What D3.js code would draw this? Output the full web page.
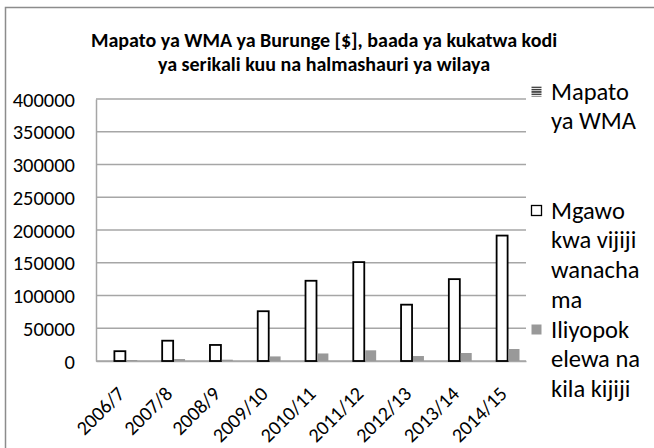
<!DOCTYPE html>
<html>
<head>
<meta charset="utf-8">
<script src="https://cdn.jsdelivr.net/npm/d3@7"></script>
<style>
  body { margin: 0; background: #fff; }
  svg text { font-family: Carlito, Lato, "Liberation Sans", sans-serif; fill: #000; }
</style>
</head>
<body>
<svg id="chart" width="654" height="448"></svg>
<script>
// chart data
var categories = ["2006/7", "2007/8", "2008/9", "2009/10", "2010/11", "2011/12", "2012/13", "2013/14", "2014/15"];
var seriesNames = ["Mapato ya WMA", "Mgawo kwa vijiji wanachama", "Iliyopokelewa na kila kijiji"];
// Mapato ya WMA has no visible bars in the picture
var mgawo = [15000, 31000, 24500, 76000, 122500, 151000, 86000, 125000, 191500];
var iliyopokelewa = [1500, 3000, 2000, 7000, 11500, 16300, 7600, 12200, 18300];
var yTicks = [0, 50000, 100000, 150000, 200000, 250000, 300000, 350000, 400000];
var titleLines = ["Mapato ya WMA ya Burunge [$], baada ya kukatwa kodi", "ya serikali kuu na halmashauri ya wilaya"];
var legendLines = [["Mapato", "ya WMA"], ["Mgawo", "kwa vijiji", "wanacha", "ma"], ["Iliyopok", "elewa na", "kila kijiji"]];

var svg = d3.select("#chart"),
   margin = {top: 99, right: 128, bottom: 87, left: 96},
   width = +svg.attr("width") - margin.left - margin.right,
   height = +svg.attr("height") - margin.top - margin.bottom;

// outer frame
svg.append("rect")
   .attr("x", 5.5).attr("y", 7.5)
   .attr("width", 660).attr("height", 460)
   .attr("fill", "none")
   .attr("stroke", "#8c8c8c")
   .attr("stroke-width", 1.5);

// stripes for the first legend key
var pat = svg.append("defs").append("pattern")
   .attr("id", "stripes")
   .attr("patternUnits", "userSpaceOnUse")
   .attr("width", 4).attr("height", 2.4);
pat.append("rect").attr("width", 4).attr("height", 2.4).attr("fill", "#fff");
pat.append("rect").attr("width", 4).attr("height", 1.5).attr("fill", "#333");

var g = svg.append("g").attr("transform", "translate(" + margin.left + "," + margin.top + ")");

var x0 = d3.scaleBand()
   .domain(categories)
   .range([0, width])
   .paddingInner(0.31)
   .paddingOuter(0.155);

var x1 = d3.scaleBand()
   .domain(seriesNames)
   .range([0, x0.bandwidth()]);

var y = d3.scaleLinear()
   .domain([0, 400000])
   .range([height, 0]);

// gridlines
g.append("g")
   .selectAll("line")
   .data(yTicks)
   .enter().append("line")
   .attr("x1", 0).attr("x2", width)
   .attr("y1", function (d) { return y(d); })
   .attr("y2", function (d) { return y(d); })
   .attr("stroke", "#a6a6a6")
   .attr("stroke-width", 1.5);

// y axis
var yAxis = g.append("g")
   .call(d3.axisLeft(y).tickValues(yTicks).tickSize(0).tickPadding(21).tickFormat(d3.format("d")));
yAxis.select(".domain").attr("stroke", "#a6a6a6").attr("stroke-width", 1.5);
yAxis.selectAll("text").style("font-size", "20.5px").attr("dy", "0.35em");

// x axis
var xAxis = g.append("g")
   .attr("transform", "translate(0," + height + ")")
   .call(d3.axisBottom(x0).tickSize(0).tickPadding(0));
xAxis.select(".domain").attr("stroke", "#a6a6a6").attr("stroke-width", 1.5);
xAxis.selectAll("text")
   .style("font-size", "20px")
   .attr("text-anchor", "end")
   .attr("dy", null)
   .attr("y", 0)
   .attr("transform", "translate(6,34) rotate(-45)");

// bars: outlined
g.append("g")
   .selectAll("rect")
   .data(mgawo)
   .enter().append("rect")
   .attr("x", function (d, i) { return x0(categories[i]) + x1(seriesNames[1]); })
   .attr("y", function (d) { return y(d); })
   .attr("width", x1.bandwidth())
   .attr("height", function (d) { return height - y(d); })
   .attr("fill", "#fff")
   .attr("stroke", "#000")
   .attr("stroke-width", 1.8);

// bars: grey
g.append("g")
   .selectAll("rect")
   .data(iliyopokelewa)
   .enter().append("rect")
   .attr("x", function (d, i) { return x0(categories[i]) + x1(seriesNames[2]) + 0.9; })
   .attr("y", function (d) { return y(d); })
   .attr("width", x1.bandwidth())
   .attr("height", function (d) { return height - y(d); })
   .attr("fill", "#999999");

// title
svg.append("g")
   .selectAll("text")
   .data(titleLines)
   .enter().append("text")
   .attr("x", 324)
   .attr("y", function (d, i) { return 47 + i * 24; })
   .attr("text-anchor", "middle")
   .style("font-size", "20px")
   .style("font-weight", "bold")
   .text(function (d) { return d; });

// legend
var keyFill = ["url(#stripes)", "#fff", "#999999"];
var leg = svg.append("g").attr("transform", "translate(531,0)");
legendLines.forEach(function (lines, k) {
   var top = 91 + k * 119;
   leg.append("rect")
      .attr("x", 0.5).attr("y", top - 4.5)
      .attr("width", 10).attr("height", 10)
      .attr("fill", keyFill[k])
      .attr("stroke", k === 1 ? "#000" : "none")
      .attr("stroke-width", 1.3);
   leg.append("g")
      .selectAll("text")
      .data(lines)
      .enter().append("text")
      .attr("x", 20)
      .attr("y", function (d, i) { return top + i * 29.7; })
      .attr("dy", "0.35em")
      .style("font-size", "24.5px")
      .text(function (d) { return d; });
});
</script>
</body>
</html>
